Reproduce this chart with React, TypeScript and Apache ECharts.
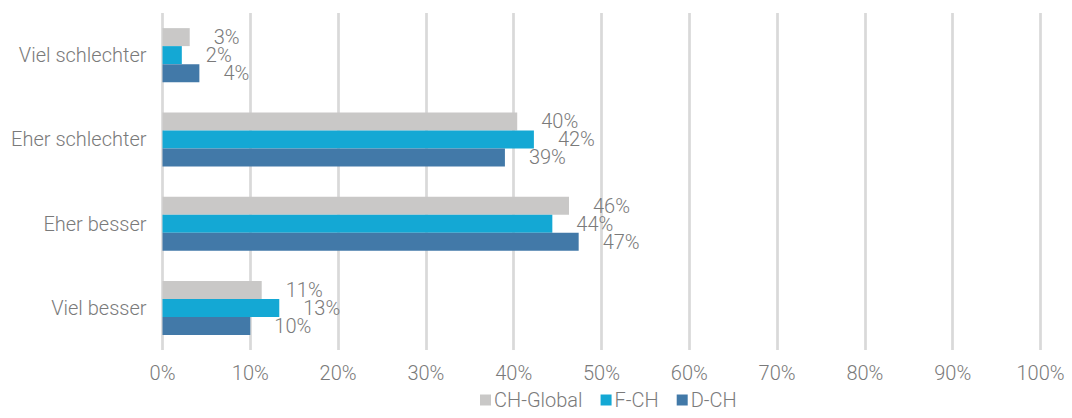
import React, { useEffect, useRef } from "react";
import * as echarts from "echarts";

const categories = ["Viel schlechter", "Eher schlechter", "Eher besser", "Viel besser"];
const seriesNames = ["CH-Global", "F-CH", "D-CH"];
const chGlobal = [3.1, 40.4, 46.3, 11.3];
const fCh = [2.2, 42.3, 44.4, 13.3];
const dCh = [4.2, 39.0, 47.4, 10.0];
const xTicks = [0, 10, 20, 30, 40, 50, 60, 70, 80, 90, 100];

const colors = ["#c9c8c7", "#14a8d4", "#4279a8"];
const FONT = "Roboto";
const TEXT = "#7a7a7a";
const FS = 20;

export default function App() {
  const ref = useRef<HTMLDivElement>(null);
  useEffect(() => {
    document.body.style.margin = "0";
    if (!ref.current) return;
    const chart = echarts.init(ref.current, undefined, { renderer: "svg" });
    const values = [chGlobal, fCh, dCh];
    chart.setOption({
      animation: false,
      textStyle: { fontFamily: FONT, fontWeight: 300 },
      grid: { left: 162.5, right: 31.5, top: 13, bottom: 68, containLabel: false },
      legend: {
        data: seriesNames,
        bottom: 3,
        left: 475,
        icon: "rect",
        itemWidth: 11,
        itemHeight: 11,
        itemGap: 18,
        textStyle: { color: TEXT, fontSize: FS, fontFamily: FONT, fontWeight: 300, padding: [0, 0, 0, -2] },
      },
      xAxis: {
        type: "value",
        min: xTicks[0],
        max: xTicks[xTicks.length - 1],
        interval: 10,
        axisLine: { show: false },
        axisTick: { show: false },
        axisLabel: {
          color: TEXT,
          fontSize: FS,
          fontFamily: FONT,
          fontWeight: 300,
          margin: 13,
          formatter: (v: number) => `${v}%`,
        },
        splitLine: { show: true, lineStyle: { color: "#d9d9d9", width: 2.7 } },
      },
      yAxis: {
        type: "category",
        data: categories,
        inverse: true,
        axisLine: { show: false },
        axisTick: { show: false },
        axisLabel: { color: TEXT, fontSize: FS, fontFamily: FONT, fontWeight: 300, margin: 16 },
      },
      series: seriesNames.map((name, i) => ({
        name,
        type: "bar",
        data: values[i],
        barWidth: 18,
        barGap: "0%",
        itemStyle: { color: colors[i] },
        label: {
          show: true,
          position: "right",
          distance: 24,
          color: TEXT,
          fontSize: FS,
          fontFamily: FONT,
          fontWeight: 300,
          formatter: (p: any) => `${Math.round(p.value)}%`,
        },
      })),
    });
    return () => chart.dispose();
  }, []);
  return <div ref={ref} style={{ width: 1072, height: 418 }} />;
}
